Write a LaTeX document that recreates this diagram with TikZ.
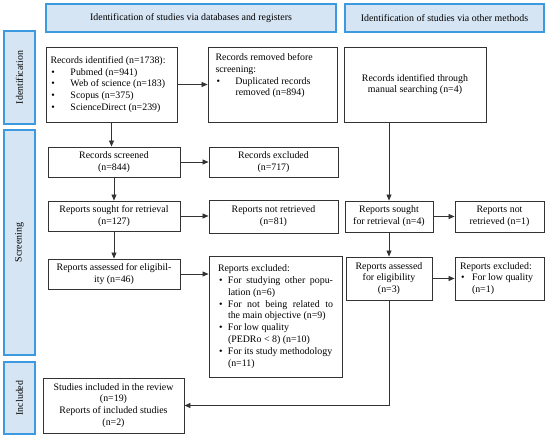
\documentclass[tikz,border=0pt]{standalone}
\usepackage{fontspec}
\setmainfont{Liberation Serif}
\usetikzlibrary{arrows.meta,calc}
\definecolor{hdrfill}{HTML}{D6E5F4}
\definecolor{hdrline}{HTML}{3C9BE0}
\definecolor{boxline}{HTML}{333333}
\newcommand\fs{\fontsize{9.9}{11.8}\selectfont}
\newcommand\bitem[2]{\par\hangindent=#1\hangafter=1\noindent\makebox[#1][l]{\hspace{1pt}\textbullet}#2}
\begin{document}
\begin{tikzpicture}[x=1pt,y=-1pt,
  box/.style={draw=boxline, line width=0.9pt, fill=white, align=center, inner sep=2pt, font=\fs},
  hdr/.style={draw=hdrline, line width=1.1pt, fill=hdrfill, align=center, inner sep=0pt, font=\fs},
  arr/.style={-{Triangle[length=6pt,width=5pt]}, line width=0.8pt, draw=boxline},
  ln/.style={line width=0.8pt, draw=boxline}]
\useasboundingbox (0,0) rectangle (550,439);

% headers
\node[hdr, minimum width=290, minimum height=28] (h1) at (191,18) {Identification of studies via databases and registers};
\node[hdr, minimum width=199, minimum height=28] (h2) at (444.5,18) {Identification of studies via other methods};

% side labels
\node[hdr, rotate=90, minimum width=93, minimum height=31] (s1) at (19.5,77.5) {Identification};
\node[hdr, rotate=90, minimum width=225, minimum height=31] (s2) at (19.5,242.5) {Screening};
\node[hdr, rotate=90, minimum width=72, minimum height=31] (s3) at (19.5,398) {Included};

% identification row
\node[box, minimum width=131, minimum height=75] (rid) at (111.5,84.5) {%
  \begin{minipage}{122pt}\raggedright
  Records identified (n=1738):
  \bitem{20pt}{Pubmed (n=941)}
  \bitem{20pt}{Web of science (n=183)}
  \bitem{20pt}{Scopus (n=375)}
  \bitem{20pt}{ScienceDirect (n=239)}
  \end{minipage}};
\node[box, minimum width=129, minimum height=75] (rrem) at (272.5,84.5) {%
  \begin{minipage}[c][62pt][t]{114pt}\raggedright
  Records removed before\newline screening:
  \bitem{20pt}{Duplicated records\newline removed (n=894)}
  \end{minipage}};
\node[box, minimum width=142, minimum height=75] (man) at (415,84.5) {Records identified through\\manual searching (n=4)};

% screening rows, left
\node[box, minimum width=132, minimum height=30] (rs) at (114,162) {Records screened\\(n=844)};
\node[box, minimum width=129, minimum height=30] (rex) at (273.5,162) {Records excluded\\(n=717)};
\node[box, minimum width=132, minimum height=30] (rsought) at (114,216) {Reports sought for retrieval\\(n=127)};
\node[box, minimum width=129, minimum height=33] (rnr) at (273.5,216.5) {Reports not retrieved\\(n=81)};
\node[box, minimum width=132, minimum height=30] (ra) at (114,274) {Reports assessed for eligibil-\\ity (n=46)};
\node[box, minimum width=133, minimum height=121] (rexcl) at (275.5,316.5) {%
  \begin{minipage}{115pt}
  Reports excluded:
  \bitem{10pt}{For studying other popu-\linebreak lation (n=6)}
  \bitem{10pt}{For not being related to\linebreak the main objective (n=9)}
  \bitem{10pt}{For low quality\\(PEDRo < 8) (n=10)}
  \bitem{10pt}{For its study methodology\\(n=11)}
  \end{minipage}};

% screening rows, right
\node[box, minimum width=88, minimum height=31] (rs2) at (389,216.5) {Reports sought\\for retrieval (n=4)};
\node[box, minimum width=89, minimum height=31] (rnr2) at (499.5,216.5) {Reports not\\retrieved (n=1)};
\node[box, minimum width=86, minimum height=43] (ra2) at (389,278.5) {Reports assessed\\for eligibility\\(n=3)};
\node[box, minimum width=89, minimum height=43] (rex2) at (499.5,278.5) {%
  \begin{minipage}{79pt}\raggedright
  Reports excluded:
  \bitem{12pt}{For low quality\newline(n=1)}
  \end{minipage}};

% included
\node[box, minimum width=141, minimum height=55] (inc) at (113.5,405.5) {Studies included in the review\\(n=19)\\Reports of included studies\\(n=2)};

% connectors
\draw[arr] (rid.south) -- (rid.south |- rs.north);
\draw[arr] (rid.east) -- (rrem.west);
\draw[arr] (rs.east) -- (rs.east -| rex.west);
\draw[arr] (rs.south) -- (rsought.north);
\draw[arr] (rsought.east) -- (rsought.east -| rnr.west);
\draw[arr] (rsought.south) -- (ra.north);
\draw[arr] (ra.east) -- (ra.east -| rexcl.west);
\draw[arr] (man.south -| rs2.north) -- (rs2.north);
\draw[arr] (rs2.east) -- (rnr2.west);
\draw[arr] (rs2.south) -- (ra2.north);
\draw[arr] (ra2.east) -- (rex2.west);
\draw[arr] (ra2.south) |- (inc.east);
\end{tikzpicture}
\end{document}
